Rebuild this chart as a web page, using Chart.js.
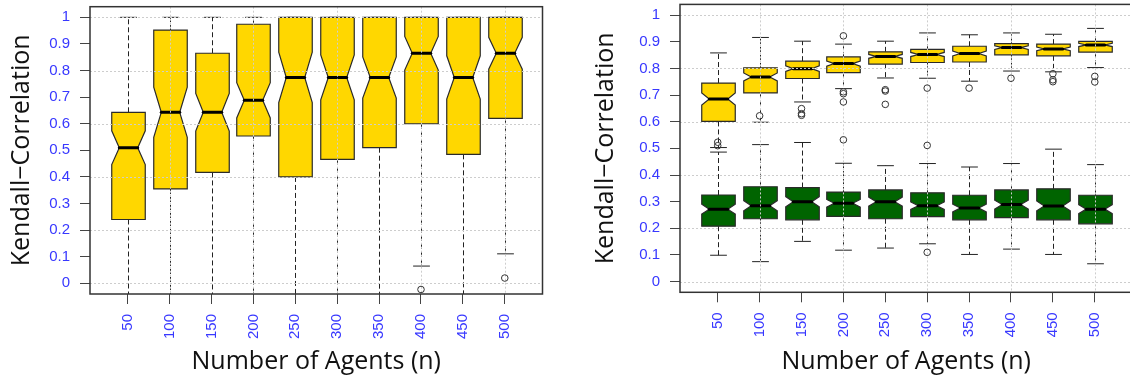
<!DOCTYPE html>
<html>
<head>
<meta charset="utf-8">
<script src="https://cdn.jsdelivr.net/npm/chart.js@4.4.1/dist/chart.umd.min.js"></script>
<style>
  html, body { margin: 0; padding: 0; background: #fff; overflow: hidden; }
  #wrap { position: relative; width: 1130px; height: 378px; overflow: hidden; }
  .panel { position: absolute; top: 0; height: 378px; }
</style>
</head>
<body>
<div id="wrap">
  <div class="panel" style="left:0;width:565px"><canvas id="leftChart"></canvas></div>
  <div class="panel" style="left:570px;width:570px"><canvas id="rightChart"></canvas></div>
</div>
<script>
// x categories and y tick labels
var agents      = ['50', '100', '150', '200', '250', '300', '350', '400', '450', '500'];
var yTickValues = [0, 0.1, 0.2, 0.3, 0.4, 0.5, 0.6, 0.7, 0.8, 0.9, 1];
var yTickLabels = ['0', '0.1', '0.2', '0.3', '0.4', '0.5', '0.6', '0.7', '0.8', '0.9', '1'];

// left plot: whisker ends, quartiles, medians, outliers
var leftLow  = [-0.05, -0.05, -0.05, -0.05, -0.05, -0.05, -0.05, 0.065, -0.05, 0.111];
var leftQ1   = [0.24, 0.355, 0.417, 0.554, 0.4, 0.466, 0.51, 0.6, 0.485, 0.62];
var leftMed  = [0.51, 0.643, 0.643, 0.688, 0.774, 0.774, 0.774, 0.865, 0.774, 0.865];
var leftQ3   = [0.643, 0.952, 0.865, 0.974, 1, 1, 1, 1, 1, 1];
var leftHigh = [1, 1, 1, 1, 1, 1, 1, 1, 1, 1];
var leftOut  = [[], [], [], [], [], [], [], [-0.023], [], [0.02]];

// right plot, upper group
var goldLow  = [0.503, 0.598, 0.674, 0.724, 0.764, 0.763, 0.752, 0.79, 0.787, 0.803];
var goldQ1   = [0.601, 0.708, 0.762, 0.784, 0.816, 0.822, 0.824, 0.851, 0.847, 0.861];
var goldMed  = [0.685, 0.768, 0.799, 0.818, 0.845, 0.852, 0.856, 0.878, 0.873, 0.888];
var goldQ3   = [0.745, 0.802, 0.827, 0.843, 0.862, 0.871, 0.883, 0.893, 0.891, 0.901];
var goldHigh = [0.858, 0.916, 0.902, 0.891, 0.902, 0.933, 0.926, 0.933, 0.928, 0.95];
var goldOut  = [[0.523, 0.51], [0.622], [0.649, 0.63, 0.624], [0.922, 0.712, 0.705, 0.674, 0.532],
                [0.72, 0.715, 0.665], [0.726], [0.726], [0.763], [0.78, 0.757, 0.75], [0.77, 0.749]];

// right plot, lower group
var greenLow  = [0.099, 0.075, 0.151, 0.118, 0.126, 0.142, 0.102, 0.122, 0.102, 0.067];
var greenQ1   = [0.208, 0.236, 0.232, 0.245, 0.236, 0.244, 0.232, 0.24, 0.232, 0.217];
var greenMed  = [0.272, 0.285, 0.3, 0.294, 0.3, 0.285, 0.276, 0.289, 0.284, 0.272];
var greenQ3   = [0.325, 0.356, 0.353, 0.336, 0.344, 0.333, 0.324, 0.344, 0.348, 0.324];
var greenHigh = [0.486, 0.514, 0.522, 0.444, 0.435, 0.443, 0.43, 0.443, 0.497, 0.439];
var greenOut  = [[], [], [], [], [], [0.511, 0.11], [], [], [], []];

var notchN    = 100;   // runs per box, used for the notch half-height
var boxHalf   = 0.4;   // half box width in x units
var notchFrac = 0.55;
var tickBlue  = '#3838ff';
var tickFont  = { family: "'Liberation Sans', Arial, sans-serif", size: 15 };
var titleFont = { family: "'Open Sans', sans-serif", size: 25 };

// Draws notched boxes with whiskers, then the dotted grid over them
var boxPlugin = {
    id: 'boxes',
    beforeDatasetsDraw: function(chart, args, opts) {
        var ctx = chart.ctx, a = chart.chartArea;
        var xs = chart.scales.x, ys = chart.scales.y;
        var hw = xs.getPixelForValue(1 + boxHalf) - xs.getPixelForValue(1);
        var nw = hw * notchFrac;
        ctx.save();
        ctx.beginPath();
        ctx.rect(a.left, a.top, a.right - a.left, a.bottom - a.top);
        ctx.clip();
        opts.groups.forEach(function(g) {
            agents.forEach(function(name, i) {
                var cx = Math.round(xs.getPixelForValue(i + 1)) + 0.5;
                var notch = 1.58 * (g.q3[i] - g.q1[i]) / Math.sqrt(notchN);
                var py = function(v) { return ys.getPixelForValue(v); };

                // whiskers
                ctx.strokeStyle = '#222';
                ctx.lineWidth = 1;
                ctx.setLineDash([5, 3]);
                ctx.beginPath();
                ctx.moveTo(cx, py(g.q3[i])); ctx.lineTo(cx, py(g.high[i]));
                ctx.moveTo(cx, py(g.q1[i])); ctx.lineTo(cx, py(g.low[i]));
                ctx.stroke();
                ctx.setLineDash([]);

                // staples
                ctx.beginPath();
                ctx.moveTo(cx - hw / 2, py(g.high[i])); ctx.lineTo(cx + hw / 2, py(g.high[i]));
                ctx.moveTo(cx - hw / 2, py(g.low[i]));  ctx.lineTo(cx + hw / 2, py(g.low[i]));
                ctx.stroke();

                // notched box
                ctx.beginPath();
                ctx.moveTo(cx - hw, py(g.q1[i]));
                ctx.lineTo(cx + hw, py(g.q1[i]));
                ctx.lineTo(cx + hw, py(g.med[i] - notch));
                ctx.lineTo(cx + nw, py(g.med[i]));
                ctx.lineTo(cx + hw, py(g.med[i] + notch));
                ctx.lineTo(cx + hw, py(g.q3[i]));
                ctx.lineTo(cx - hw, py(g.q3[i]));
                ctx.lineTo(cx - hw, py(g.med[i] + notch));
                ctx.lineTo(cx - nw, py(g.med[i]));
                ctx.lineTo(cx - hw, py(g.med[i] - notch));
                ctx.closePath();
                ctx.fillStyle = g.fill;
                ctx.fill();
                ctx.strokeStyle = '#2a2a2a';
                ctx.lineWidth = 1.2;
                ctx.stroke();

                // median
                ctx.beginPath();
                ctx.lineWidth = 3;
                ctx.lineCap = 'round';
                ctx.strokeStyle = '#000';
                ctx.moveTo(cx - nw, py(g.med[i]));
                ctx.lineTo(cx + nw, py(g.med[i]));
                ctx.stroke();
                ctx.lineCap = 'butt';
            });
        });

        // dotted grid: every 0.2 on y, every second box on x
        ctx.strokeStyle = '#cdcdcd';
        ctx.lineWidth = 1;
        ctx.setLineDash([2, 2]);
        ctx.beginPath();
        yTickValues.forEach(function(v, i) {
            if (i % 2) return;
            var p = Math.round(ys.getPixelForValue(v)) + 0.5;
            ctx.moveTo(a.left, p); ctx.lineTo(a.right, p);
        });
        agents.forEach(function(name, i) {
            if (i % 2 === 0) return;
            var p = Math.round(xs.getPixelForValue(i + 1)) + 0.5;
            ctx.moveTo(p, a.top); ctx.lineTo(p, a.bottom);
        });
        ctx.stroke();
        ctx.restore();
    },
    afterDatasetsDraw: function(chart) {
        var ctx = chart.ctx, a = chart.chartArea;
        ctx.save();
        ctx.strokeStyle = '#333';
        ctx.lineWidth = 1.5;
        ctx.strokeRect(a.left, a.top, a.right - a.left, a.bottom - a.top);
        ctx.restore();
    }
};

function makeGroup(low, q1, med, q3, high, out, fill) {
    return { low: low, q1: q1, med: med, q3: q3, high: high, out: out, fill: fill };
}

function boxChart(canvasId, groups, sizes) {
    var points = [];
    groups.forEach(function(g) {
        g.out.forEach(function(vals, i) {
            vals.forEach(function(v) { points.push({ x: i + 1, y: v }); });
        });
    });

    return new Chart(document.getElementById(canvasId), {
        type: 'scatter',
        data: {
            datasets: [{
                data: points,
                pointRadius: 3.3,
                pointHoverRadius: 3.3,
                pointBorderWidth: 1,
                borderColor: '#333',
                backgroundColor: 'rgba(0,0,0,0)'
            }]
        },
        options: {
            responsive: true,
            maintainAspectRatio: false,
            animation: false,
            events: [],
            layout: { padding: { top: sizes.top, right: sizes.right, left: 0, bottom: 0 } },
            plugins: {
                legend: { display: false },
                tooltip: { enabled: false },
                boxes: { groups: groups }
            },
            scales: {
                x: {
                    type: 'linear',
                    min: 0.1,
                    max: 10.9,
                    bounds: 'data',
                    afterBuildTicks: function(s) {
                        s.ticks = agents.map(function(n, i) { return { value: i + 1 }; });
                    },
                    afterFit: function(s) {
                        s.height = sizes.xHeight;
                        s.paddingLeft = 0;
                        s.paddingRight = 0;
                    },
                    ticks: {
                        autoSkip: false,
                        minRotation: 90,
                        maxRotation: 90,
                        padding: 10,
                        color: tickBlue,
                        font: tickFont,
                        callback: function(v, i) { return agents[i]; }
                    },
                    grid: { drawOnChartArea: false, drawTicks: true, tickLength: 10, tickColor: '#444' },
                    border: { display: false },
                    title: {
                        display: true,
                        text: 'Number of Agents (n)',
                        color: '#111',
                        font: titleFont,
                        padding: { top: 0, bottom: 1 }
                    }
                },
                y: {
                    type: 'linear',
                    min: -0.04,
                    max: 1.04,
                    bounds: 'data',
                    afterBuildTicks: function(s) {
                        s.ticks = yTickValues.map(function(v) { return { value: v }; });
                    },
                    afterFit: function(s) {
                        s.width = sizes.yWidth;
                        s.paddingTop = 0;
                        s.paddingBottom = 0;
                    },
                    ticks: {
                        padding: 10,
                        color: tickBlue,
                        font: tickFont,
                        callback: function(v, i) { return yTickLabels[i]; }
                    },
                    grid: { drawOnChartArea: false, drawTicks: true, tickLength: 10, tickColor: '#444' },
                    border: { display: false },
                    title: {
                        display: true,
                        text: 'Kendall\u2212Correlation',
                        color: '#111',
                        font: titleFont,
                        padding: { top: sizes.titlePad, bottom: 0 }
                    }
                }
            }
        },
        plugins: [boxPlugin]
    });
}

var leftChart = boxChart('leftChart',
    [makeGroup(leftLow, leftQ1, leftMed, leftQ3, leftHigh, leftOut, '#ffd700')],
    { top: 6.7, right: 22.5, xHeight: 84, yWidth: 90, titlePad: 7 });

var rightChart = boxChart('rightChart',
    [makeGroup(goldLow, goldQ1, goldMed, goldQ3, goldHigh, goldOut, '#ffd700'),
     makeGroup(greenLow, greenQ1, greenMed, greenQ3, greenHigh, greenOut, '#006400')],
    { top: 4.4, right: 7.5, xHeight: 85.7, yWidth: 110, titlePad: 21 });
</script>
</body>
</html>
